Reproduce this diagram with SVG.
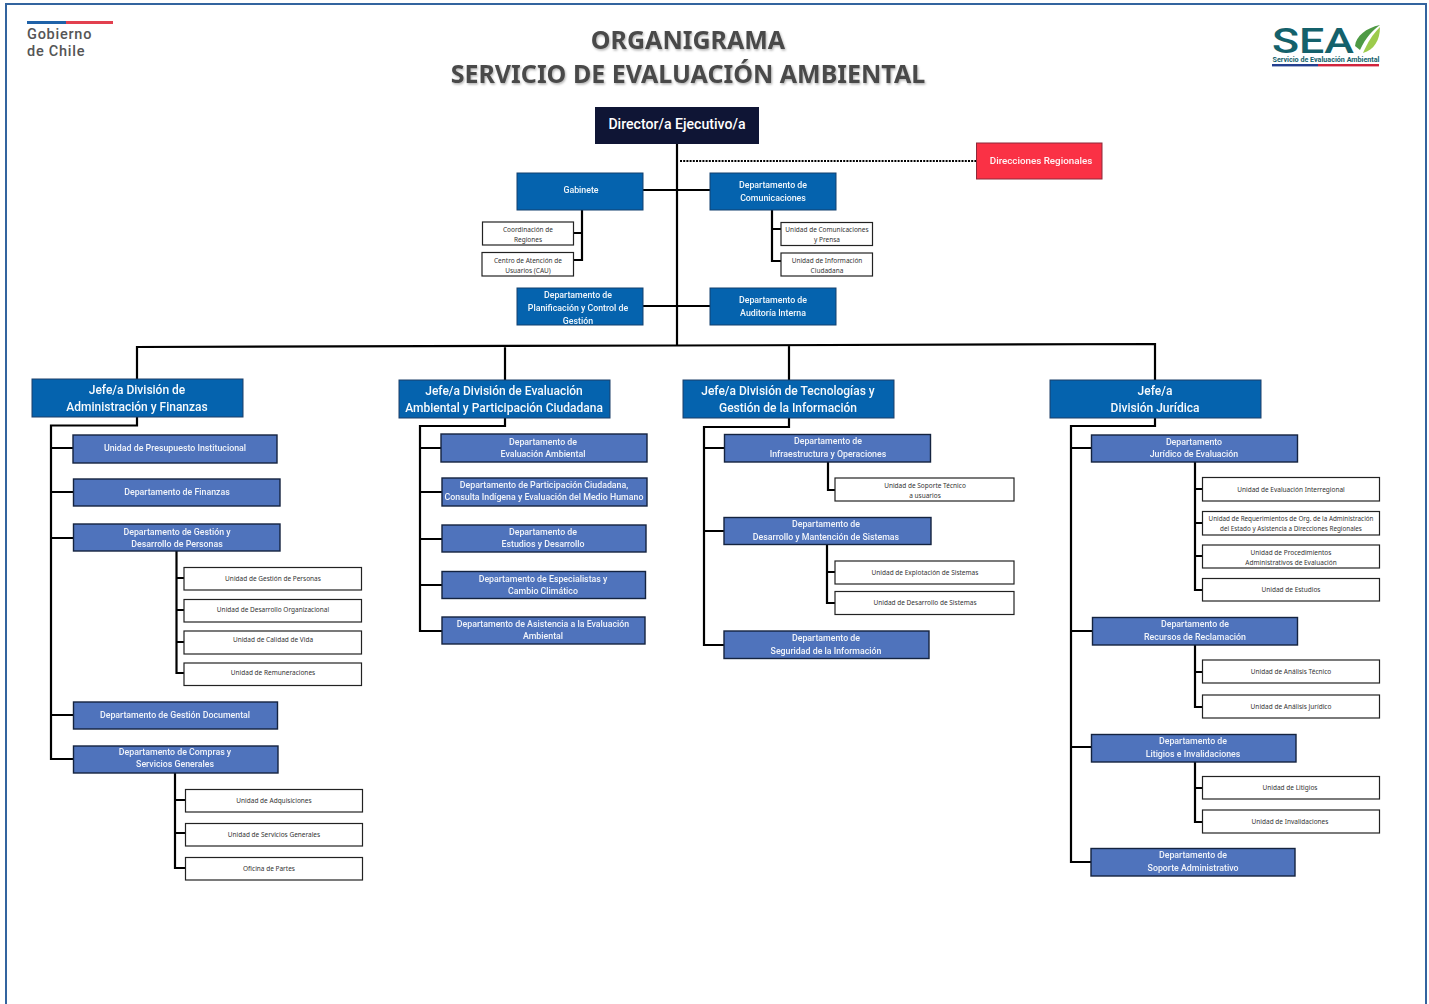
<svg xmlns="http://www.w3.org/2000/svg" width="1429" height="1004" viewBox="0 0 1429 1004">
<style>
text{font-family:Roboto,"Noto Sans","Liberation Sans",sans-serif;text-anchor:middle}
.top{fill:#0563ae;stroke:#12406f;stroke-width:1}
.head{fill:#0563ae;stroke:#1c3f68;stroke-width:1}
.dept{fill:#4f73bc;stroke:#14233f;stroke-width:1.4}
.unit{fill:#fff;stroke:#222;stroke-width:1.2}
.tt{fill:#fff;font-size:8.8px;font-weight:500;opacity:.95}
.th{fill:#fff;font-size:12px;font-weight:500;opacity:.97}
.td{fill:#fff;font-size:8.800px;font-weight:500;opacity:.92}
.tu{fill:#333;font-size:6.5px;font-family:"Noto Sans","Liberation Sans",sans-serif}
.title{fill:#4a4a4a;font-size:25px;font-weight:700;font-family:"Noto Sans","Liberation Sans",sans-serif}
#connectors path{fill:none;stroke:#000;stroke-width:2.200}
</style>
<defs>
<filter id="sh" x="-5%" y="-20%" width="110%" height="150%"><feDropShadow dx="1" dy="1.5" stdDeviation="1.2" flood-color="#000" flood-opacity=".3"/></filter>
</defs>
<rect width="1429" height="1004" fill="#fff"/>
<path d="M6 1004V4H1426V1004" fill="none" stroke="#33649f" stroke-width="2"/>

<g id="logo-gobierno">
<rect x="27" y="21" width="39" height="3" fill="#1f62a8"/>
<rect x="66" y="21" width="47" height="3" fill="#e2404f"/>
<text x="27" y="39" style="text-anchor:start;font-size:14.500px;font-weight:500;fill:#555;letter-spacing:.75px">Gobierno</text>
<text x="27" y="56" style="text-anchor:start;font-size:14.500px;font-weight:500;fill:#555;letter-spacing:.75px">de Chile</text>
</g>
<g id="titulo" filter="url(#sh)">
<text class="title" x="688" y="49">ORGANIGRAMA</text>
<text class="title" x="688" y="83">SERVICIO DE EVALUACIÓN AMBIENTAL</text>
</g>
<g id="logo-sea">
<text x="1272" y="53" textLength="82" lengthAdjust="spacingAndGlyphs" style="text-anchor:start;font-size:35px;font-weight:500;fill:#14616b">SEA</text>
<path d="M1355 46C1356 36 1366 28 1380 25C1373 30 1366 37 1360 50Z" fill="#4e9a45"/>
<path d="M1363 53C1368 42 1372 35 1380 27C1380 40 1374 50 1363 53Z" fill="#9ccb4c"/>
<text x="1326" y="62" textLength="107" lengthAdjust="spacingAndGlyphs" style="font-size:6.6px;font-weight:700;fill:#14616b">Servicio de Evaluación Ambiental</text>
<rect x="1272" y="64" width="46" height="2.4" fill="#243f8f"/>
<rect x="1318" y="64" width="61" height="2.4" fill="#d1243d"/>
</g>

<g id="connectors">
<path d="M677 144V345"/>
<path d="M643 190H710M643 306H710"/>
<path d="M680 161H976" style="stroke-dasharray:2 1.2"/>
<path d="M582 210V260H574M582 233H574"/>
<path d="M772 210V261H781M772 229H781"/>
<path d="M137 379V347L677 345.500L1155 344V380M505 346V380M789 345V380"/>
<path d="M137 417V425.500H51V759H73M51 448H73M51 492H73M51 538H73M51 715H73"/>
<path d="M176.500 551V673H184M176.500 578H184M176.500 610H184M176.500 642H184"/>
<path d="M175 773V868H185M175 800H185M175 833H185"/>
<path d="M505 418V426H420V631H442M420 448H441M420 492H442M420 539H442M420 585H442"/>
<path d="M789 418V427H704V645H724M704 448H724M704 531H724"/>
<path d="M828 462V490H835M827 544V603H835M827 572H835"/>
<path d="M1155 418V426H1071V862H1091M1071 448H1091M1071 631H1092M1071 747H1091"/>
<path d="M1195 462V590H1202M1195 489H1202M1195 523H1202M1195 556H1202"/>
<path d="M1195 645V707H1202M1195 672H1202"/>
<path d="M1195 762V822H1202M1195 788H1202"/>
</g>

<g id="director"><rect x="595" y="107" width="164" height="37" fill="#0f1535"/><text x="677" y="129" style="fill:#fff;font-size:14.100px;font-weight:500">Director/a Ejecutivo/a</text></g>
<g id="direcciones-regionales"><rect x="976.500" y="143" width="125.500" height="36" fill="#fa3145" stroke="#8c2a3a"/><text x="1041" y="164" class="tt" style="font-size:9.800px">Direcciones Regionales</text></g>
<g id="gabinete"><rect class="top" x="517" y="173" width="126" height="37"/><text class="tt" x="581" y="193">Gabinete</text></g>
<g id="comunicaciones"><rect class="top" x="710" y="173" width="126" height="37"/><text class="tt" x="773" y="188">Departamento de</text><text class="tt" x="773" y="201">Comunicaciones</text></g>
<g id="coordinacion"><rect class="unit" x="482.500" y="222" width="91" height="23"/><text class="tu" x="528" y="232">Coordinación de</text><text class="tu" x="528" y="242">Regiones</text></g>
<g id="centro-atencion"><rect class="unit" x="482" y="252.500" width="91.500" height="23.500"/><text class="tu" x="528" y="263">Centro de Atención de</text><text class="tu" x="528" y="273">Usuarios (CAU)</text></g>
<g id="u-comunicaciones"><rect class="unit" x="781" y="222.500" width="91.500" height="23"/><text class="tu" x="827" y="232">Unidad de Comunicaciones</text><text class="tu" x="827" y="242">y Prensa</text></g>
<g id="u-informacion"><rect class="unit" x="781" y="253" width="91.500" height="23"/><text class="tu" x="827" y="263">Unidad de Información</text><text class="tu" x="827" y="273">Ciudadana</text></g>
<g id="planificacion"><rect class="top" x="517" y="288" width="126" height="37"/><text class="tt" x="578" y="298">Departamento de</text><text class="tt" x="578" y="311">Planificación y Control de</text><text class="tt" x="578" y="324">Gestión</text></g>
<g id="auditoria"><rect class="top" x="710" y="288" width="126" height="37"/><text class="tt" x="773" y="303">Departamento de</text><text class="tt" x="773" y="316">Auditoría Interna</text></g>

<g id="jefe-admin"><rect class="head" x="32" y="379" width="211" height="38"/><text class="th" x="137" y="394">Jefe/a División de</text><text class="th" x="137" y="411">Administración y Finanzas</text></g>
<g id="presupuesto"><rect class="dept" x="73" y="435" width="204" height="28"/><text class="td" x="175" y="451">Unidad de Presupuesto Institucional</text></g>
<g id="finanzas"><rect class="dept" x="73.500" y="479" width="206.500" height="27"/><text class="td" x="177" y="495">Departamento de Finanzas</text></g>
<g id="gestion-personas"><rect class="dept" x="73.500" y="524" width="206.500" height="27"/><text class="td" x="177" y="535">Departamento de Gestión y</text><text class="td" x="177" y="547">Desarrollo de Personas</text></g>
<g id="u-gestion-personas"><rect class="unit" x="184" y="567.500" width="177.500" height="22.500"/><text class="tu" x="273" y="581">Unidad de Gestión de Personas</text></g>
<g id="u-desarrollo-org"><rect class="unit" x="184" y="599.500" width="177.500" height="22.500"/><text class="tu" x="273" y="612">Unidad de Desarrollo Organizacional</text></g>
<g id="u-calidad"><rect class="unit" x="184" y="631" width="177.500" height="23"/><text class="tu" x="273" y="642">Unidad de Calidad de Vida</text></g>
<g id="u-remuneraciones"><rect class="unit" x="184" y="663" width="177.500" height="22.500"/><text class="tu" x="273" y="675">Unidad de Remuneraciones</text></g>
<g id="gestion-documental"><rect class="dept" x="73.500" y="702" width="204" height="27"/><text class="td" x="175" y="718">Departamento de Gestión Documental</text></g>
<g id="compras"><rect class="dept" x="73.500" y="746" width="204.500" height="27"/><text class="td" x="175" y="755">Departamento de Compras y</text><text class="td" x="175" y="767">Servicios Generales</text></g>
<g id="u-adquisiciones"><rect class="unit" x="185.500" y="789.500" width="177" height="22.500"/><text class="tu" x="274" y="803">Unidad de Adquisiciones</text></g>
<g id="u-servicios"><rect class="unit" x="185.500" y="823.500" width="177" height="22.500"/><text class="tu" x="274" y="837">Unidad de Servicios Generales</text></g>
<g id="u-partes"><rect class="unit" x="185.500" y="857.500" width="177" height="22.500"/><text class="tu" x="269" y="871">Oficina de Partes</text></g>

<g id="jefe-evaluacion"><rect class="head" x="399" y="380" width="211" height="38"/><text class="th" x="504" y="395">Jefe/a División de Evaluación</text><text class="th" x="504" y="412">Ambiental y Participación Ciudadana</text></g>
<g id="evaluacion-ambiental"><rect class="dept" x="441" y="434" width="206" height="28"/><text class="td" x="543" y="445">Departamento de</text><text class="td" x="543" y="457">Evaluación Ambiental</text></g>
<g id="participacion"><rect class="dept" x="442" y="478" width="205" height="28"/><text class="td" x="544" y="488">Departamento de Participación Ciudadana,</text><text class="td" x="544" y="500">Consulta Indígena y Evaluación del Medio Humano</text></g>
<g id="estudios"><rect class="dept" x="442" y="525" width="204" height="27"/><text class="td" x="543" y="535">Departamento de</text><text class="td" x="543" y="547">Estudios y Desarrollo</text></g>
<g id="especialistas"><rect class="dept" x="442" y="571.500" width="203.500" height="27"/><text class="td" x="543" y="582">Departamento de Especialistas y</text><text class="td" x="543" y="594">Cambio Climático</text></g>
<g id="asistencia"><rect class="dept" x="442" y="617" width="203" height="27"/><text class="td" x="543" y="627">Departamento de Asistencia a la Evaluación</text><text class="td" x="543" y="639">Ambiental</text></g>

<g id="jefe-tecnologias"><rect class="head" x="683" y="380" width="211" height="38"/><text class="th" x="788" y="395">Jefe/a División de Tecnologías y</text><text class="th" x="788" y="412">Gestión de la Información</text></g>
<g id="infraestructura"><rect class="dept" x="724.500" y="434.500" width="206" height="27.500"/><text class="td" x="828" y="444">Departamento de</text><text class="td" x="828" y="457">Infraestructura y Operaciones</text></g>
<g id="u-soporte"><rect class="unit" x="835" y="478" width="179" height="23"/><text class="tu" x="925" y="488">Unidad de Soporte Técnico</text><text class="tu" x="925" y="498">a usuarios</text></g>
<g id="desarrollo-sistemas"><rect class="dept" x="724" y="517.500" width="207" height="27"/><text class="td" x="826" y="527">Departamento de</text><text class="td" x="826" y="540">Desarrollo y Mantención de Sistemas</text></g>
<g id="u-explotacion"><rect class="unit" x="835" y="561" width="179" height="23"/><text class="tu" x="925" y="575">Unidad de Explotación de Sistemas</text></g>
<g id="u-des-sistemas"><rect class="unit" x="835" y="591.500" width="179" height="23"/><text class="tu" x="925" y="605">Unidad de Desarrollo de Sistemas</text></g>
<g id="seguridad"><rect class="dept" x="724" y="631" width="205" height="27.500"/><text class="td" x="826" y="641">Departamento de</text><text class="td" x="826" y="654">Seguridad de la Información</text></g>

<g id="jefe-juridica"><rect class="head" x="1050" y="380" width="211" height="38"/><text class="th" x="1155" y="395">Jefe/a</text><text class="th" x="1155" y="412">División Jurídica</text></g>
<g id="juridico-evaluacion"><rect class="dept" x="1091.500" y="435" width="206" height="27"/><text class="td" x="1194" y="445">Departamento</text><text class="td" x="1194" y="457">Jurídico de Evaluación</text></g>
<g id="u-interregional"><rect class="unit" x="1202.500" y="477.500" width="177" height="23.500"/><text class="tu" x="1291" y="492">Unidad de Evaluación Interregional</text></g>
<g id="u-requerimientos"><rect class="unit" x="1202.500" y="511.500" width="177" height="23.500"/><text class="tu" x="1291" y="521" style="font-size:6.300px">Unidad de Requerimientos de Org. de la Administración</text><text class="tu" x="1291" y="531" style="font-size:6.300px">del Estado y Asistencia a Direcciones Regionales</text></g>
<g id="u-procedimientos"><rect class="unit" x="1202.500" y="545" width="177" height="23"/><text class="tu" x="1291" y="555">Unidad de Procedimientos</text><text class="tu" x="1291" y="565">Administrativos de Evaluación</text></g>
<g id="u-estudios"><rect class="unit" x="1202.500" y="578.500" width="177" height="22.500"/><text class="tu" x="1291" y="592">Unidad de Estudios</text></g>
<g id="recursos"><rect class="dept" x="1092.500" y="617.500" width="205" height="27.500"/><text class="td" x="1195" y="627">Departamento de</text><text class="td" x="1195" y="640">Recursos de Reclamación</text></g>
<g id="u-tecnico"><rect class="unit" x="1202.500" y="660" width="177" height="23"/><text class="tu" x="1291" y="674">Unidad de Análisis Técnico</text></g>
<g id="u-juridico"><rect class="unit" x="1202.500" y="695" width="177" height="23"/><text class="tu" x="1291" y="709">Unidad de Análisis Jurídico</text></g>
<g id="litigios"><rect class="dept" x="1091.500" y="734.500" width="204.500" height="27.500"/><text class="td" x="1193" y="744">Departamento de</text><text class="td" x="1193" y="757">Litigios e Invalidaciones</text></g>
<g id="u-litigios"><rect class="unit" x="1202.500" y="776.500" width="177" height="22.500"/><text class="tu" x="1290" y="790">Unidad de Litigios</text></g>
<g id="u-invalidaciones"><rect class="unit" x="1202.500" y="810" width="177" height="23"/><text class="tu" x="1290" y="824">Unidad de Invalidaciones</text></g>
<g id="soporte"><rect class="dept" x="1091" y="848.500" width="204" height="27.500"/><text class="td" x="1193" y="858">Departamento de</text><text class="td" x="1193" y="871">Soporte Administrativo</text></g>
</svg>
